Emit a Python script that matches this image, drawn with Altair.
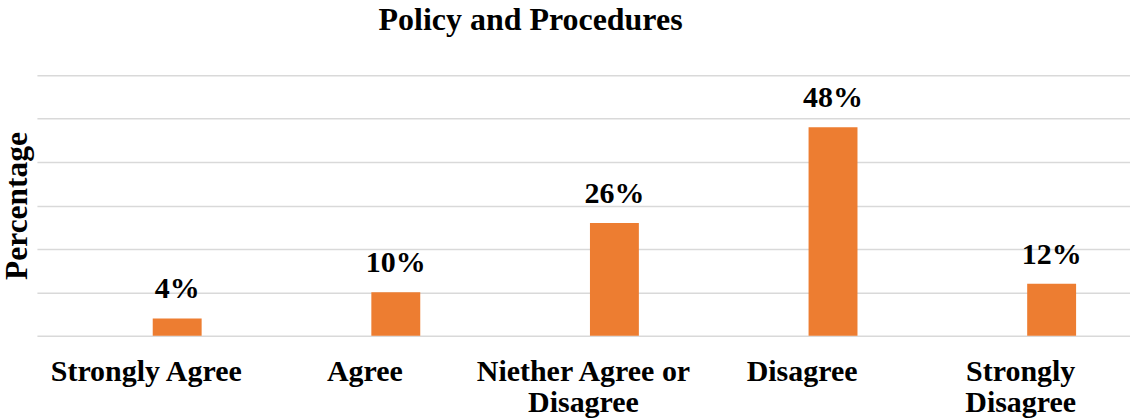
import altair as alt
import pandas as pd

# Survey responses for "Policy and Procedures"
categories = ["Strongly Agree", "Agree", "Niether Agree or Disagree", "Disagree", "Strongly Disagree"]
percentages = [4, 10, 26, 48, 12]

# Wrapped axis labels for the longer category names
wrapped = {
    "Niether Agree or Disagree": ["Niether Agree or", "Disagree"],
    "Strongly Disagree": ["Strongly", "Disagree"],
}

df = pd.DataFrame({
    "category": categories,
    "pct": percentages,
    "label": [f"{v}%" for v in percentages],
})

label_expr = "datum.label"
for name, lines in wrapped.items():
    arr = "[" + ", ".join(f"'{s}'" for s in lines) + "]"
    label_expr = f"datum.label == '{name}' ? {arr} : ({label_expr})"

FONT = "Liberation Serif"
ORANGE = "#ED7D31"
GRID = "#D9D9D9"
BAR_SHIFT = 31

x = alt.X(
    "category:N",
    sort=categories,
    axis=alt.Axis(
        title=None,
        labelAngle=0,
        labelFont=FONT,
        labelFontSize=30,
        labelFontWeight="bold",
        labelColor="black",
        labelPadding=21,
        labelLineHeight=31,
        labelLimit=0,
        labelExpr=label_expr,
        ticks=False,
        domain=False,
        grid=False,
    ),
)

y = alt.Y(
    "pct:Q",
    scale=alt.Scale(domain=[0, 60]),
    axis=alt.Axis(
        title="Percentage",
        titleFont=FONT,
        titleFontSize=31.5,
        titleFontWeight="bold",
        titleColor="black",
        titlePadding=3,
        values=[0, 10, 20, 30, 40, 50, 60],
        labels=False,
        ticks=False,
        domain=False,
        grid=True,
        gridColor=GRID,
        gridWidth=1.5,
    ),
)

base = alt.Chart(df)

bars = base.mark_bar(color=ORANGE, width=49, xOffset=BAR_SHIFT).encode(x=x, y=y)

texts = base.mark_text(
    font=FONT,
    fontSize=30,
    fontWeight="bold",
    color="black",
    baseline="alphabetic",
    dy=-20,
    xOffset=BAR_SHIFT,
).encode(x=x, y=y, text="label:N")

chart = (
    (bars + texts)
    .properties(
        width=1095,
        height=261,
        background="white",
        title=alt.TitleParams(
            "Policy and Procedures",
            font=FONT,
            fontSize=32,
            fontWeight="bold",
            color="black",
            anchor="middle",
            dx=-53,
            offset=38,
        ),
        autosize=alt.AutoSizeParams(type="none"),
        padding={"left": 37, "top": 75, "right": 0, "bottom": 84},
    )
    .configure_view(stroke="transparent", strokeWidth=0)
    .configure_axis(domain=False)
)

chart.save("out.html", embed_options={"renderer": "svg", "actions": False})
